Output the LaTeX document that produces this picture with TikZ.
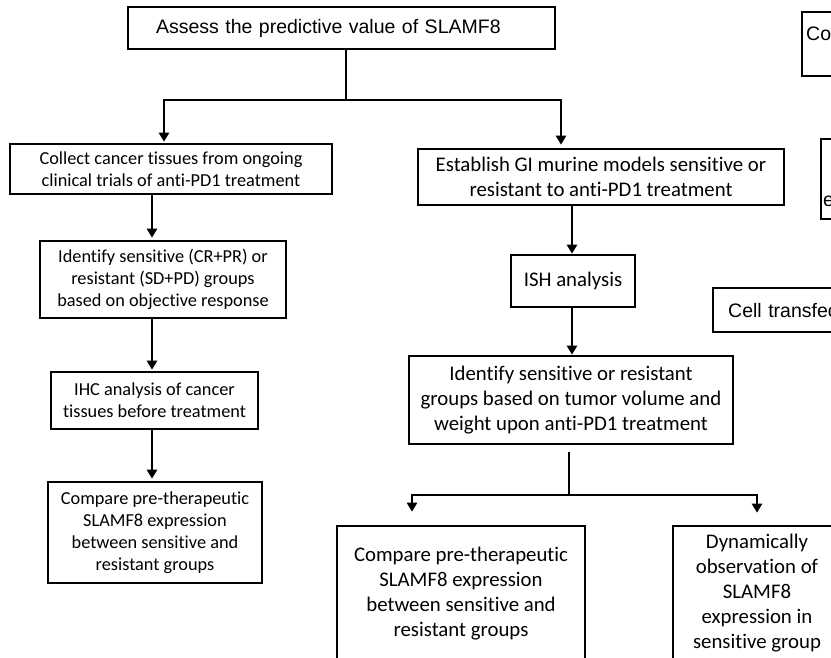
\documentclass[tikz,border=0pt]{standalone}
\usepackage{fontspec}
\setmainfont[Ligatures=NoCommon]{Carlito}
\newfontfamily\arialfont{Liberation Sans}
\usetikzlibrary{arrows.meta,calc}

\begin{document}
\begin{tikzpicture}[x=1pt,y=1pt,yscale=-1,
	box/.style={draw, line width=2.6pt, align=center, inner sep=0pt},
	smalltext/.style={font=\fontsize{18.3}{22}\selectfont},
	bigtext/.style={font=\fontsize{20.8}{25}\selectfont},
	arialbox/.style={draw, line width=2.4pt, inner sep=0pt, align=left, font=\arialfont\fontsize{19.5}{24}\selectfont},
	link/.style={line width=2.6pt},
	arrow/.style={line width=2.6pt, -{Triangle[width=10pt,length=9pt]}}]
	\useasboundingbox (0,0) rectangle (831,657);
	\clip (0,0) rectangle (831,657);
	\fill[white] (0,0) rectangle (831,657);
	
	% Top box and the boxes cut by the right edge
	\node[arialbox, line width=1.8pt, text width=371pt, inner xsep=28pt, minimum height=42pt] (assess) at (341.5,28) {Assess the predictive value of SLAMF8};
	\node[arialbox, anchor=north west, text width=200pt, inner xsep=4pt, text height=20pt, text depth=27pt, inner ysep=8.5pt] (co) at (801,11) {Co};
	\node[arialbox, anchor=north west, text width=200pt, inner xsep=2pt, text height=63pt, text depth=9pt, inner ysep=4pt] (ebox) at (820,138) {e};
	\node[arialbox, anchor=north west, text width=200pt, inner xsep=15pt, minimum height=44pt] (cell) at (712,287) {Cell transfec};
	
	% Clinical branch
	\node[box, smalltext, minimum width=322pt, minimum height=50pt] (collect) at (171,169) {Collect cancer tissues from ongoing\\clinical trials of anti-PD1 treatment};
	\node[box, smalltext, minimum width=246pt, minimum height=77pt] (identify) at (163,279.5) {Identify sensitive (CR+PR) or\\resistant (SD+PD) groups\\based on objective response};
	\node[box, smalltext, minimum width=207pt, minimum height=57pt] (ihc) at (154.5,400.5) {IHC analysis of cancer\\tissues before treatment};
	\node[box, smalltext, minimum width=214pt, minimum height=101pt] (compareL) at (155,532.5) {Compare pre-therapeutic\\SLAMF8 expression\\between sensitive and\\resistant groups};
	
	% Murine branch
	\node[box, bigtext, minimum width=366pt, minimum height=56pt] (establish) at (601,177) {Establish GI murine models sensitive or\\resistant to anti-PD1 treatment};
	\node[box, bigtext, minimum width=124pt, minimum height=52pt] (ish) at (573,281) {ISH analysis};
	\node[box, bigtext, minimum width=324pt, minimum height=88pt] (identifyM) at (571,400) {Identify sensitive or resistant\\groups based on tumor volume and\\weight upon anti-PD1 treatment};
	\node[box, bigtext, minimum width=248pt, minimum height=135pt] (compareR) at (461,593.5) {Compare pre-therapeutic\\SLAMF8 expression\\between sensitive and\\resistant groups};
	\node[box, bigtext, minimum width=168pt, minimum height=134pt] (dynamic) at (757,593) {Dynamically\\observation of\\SLAMF8\\expression in\\sensitive group};
	
	% Junctions and arrow columns
	\coordinate (jTop) at (346,100);
	\coordinate (colA) at (164,0);
	\coordinate (colB) at (561,0);
	\coordinate (colL) at (152,0);
	\coordinate (colM) at (572,0);
	\coordinate (jBot) at (569,495);
	\coordinate (colC) at (412,0);
	
	\draw[link] (assess.south -| jTop) -- (jTop);
	\draw[arrow, shorten >=1pt] (jTop) -| (collect.north -| colA);
	\draw[arrow, shorten >=3pt] (jTop) -| (establish.north -| colB);
	
	\draw[arrow, shorten >=2pt] (collect.south -| colL) -- (identify.north -| colL);
	\draw[arrow, shorten >=1pt] (identify.south -| colL) -- (ihc.north -| colL);
	\draw[arrow, shorten >=2pt] (ihc.south -| colL) -- (compareL.north -| colL);
	
	\draw[arrow] (establish.south -| colM) -- (ish.north -| colM);
	\draw[arrow] (ish.south -| colM) -- (identifyM.north -| colM);
	\draw[link, shorten <=7pt] (identifyM.south -| jBot) -- (jBot);
	\draw[arrow, shorten >=13pt] (jBot) -| (compareR.north -| colC);
	\draw[arrow, shorten >=12pt] (jBot) -| (dynamic.north);
	
\end{tikzpicture}
\end{document}
